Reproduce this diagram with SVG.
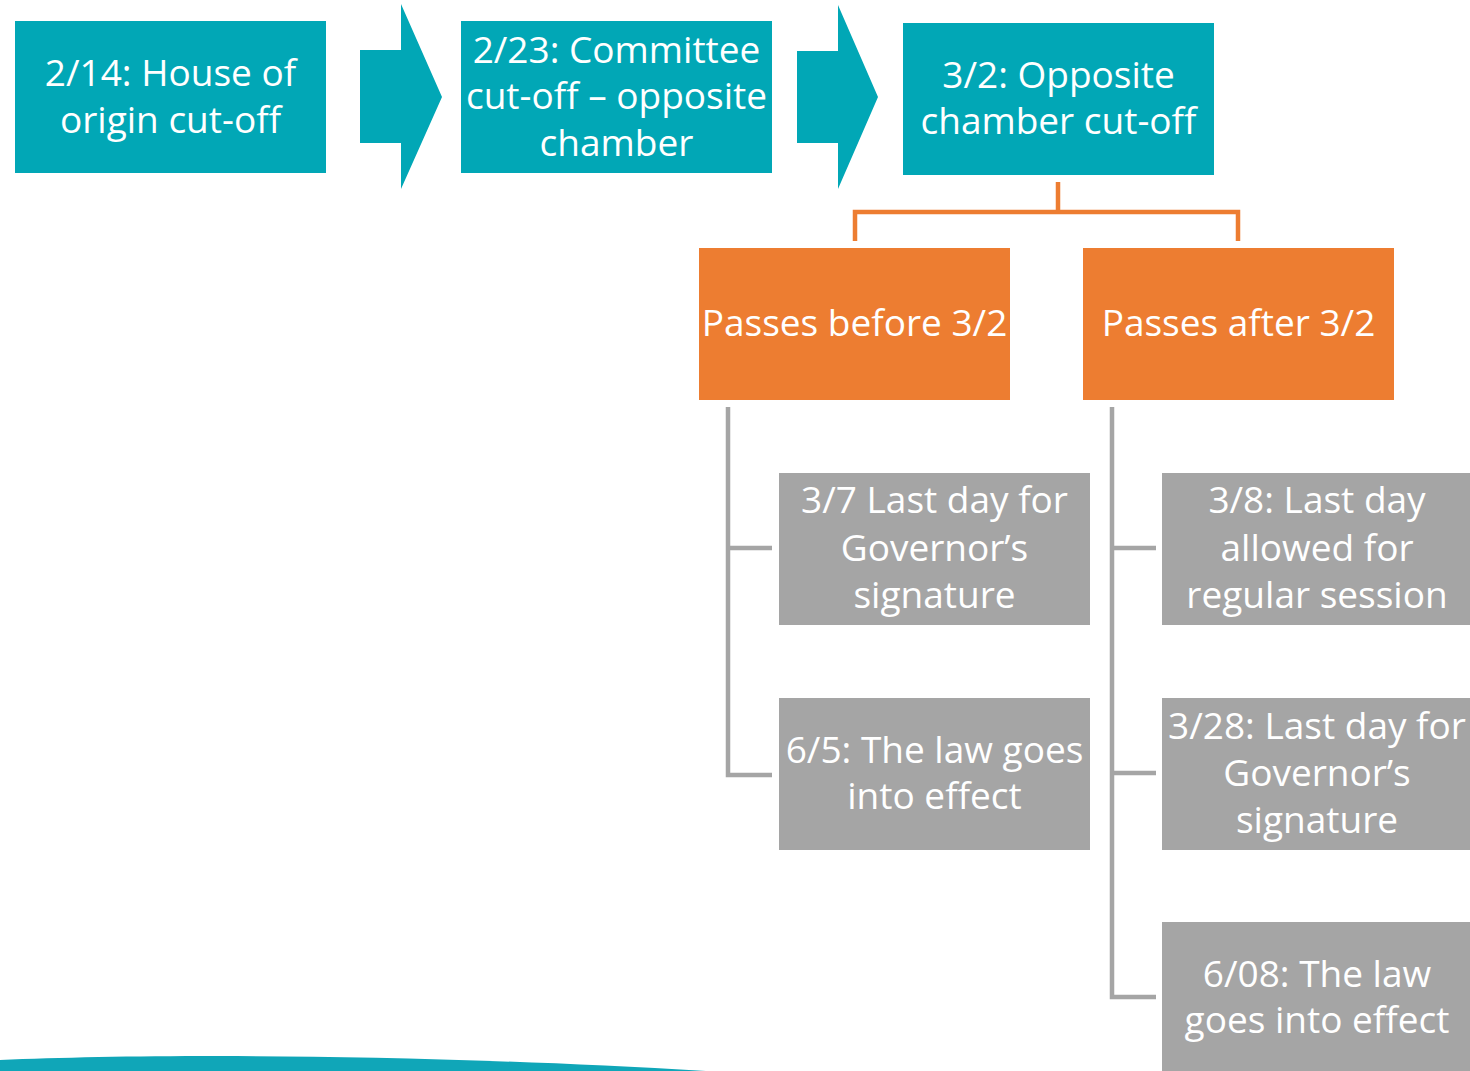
<svg xmlns="http://www.w3.org/2000/svg" width="1470" height="1071" viewBox="0 0 1470 1071">
<style>
.teal{fill:#01A7B6}
.orange{fill:#ED7D31}
.gray{fill:#A5A5A5}
text{font-family:"Open Sans","Liberation Sans",sans-serif;font-size:37px;fill:#ffffff;text-anchor:middle}
.oc{fill:none;stroke:#ED7D31;stroke-width:4.5}
.gc{fill:none;stroke:#A5A5A5;stroke-width:4.5}
</style>
<rect width="1470" height="1071" fill="#ffffff"/>
<path d="M0,1060 C150,1054 400,1053 706,1071 L0,1071 Z" fill="#10A6B8"/>
<g id="arrows">
<polygon class="teal" points="360,50 401,50 401,4 442,97 401,189 401,143 360,143"/>
<polygon class="teal" points="797,51 838,51 838,5 878,97 838,189 838,143 797,143"/>
</g>
<g id="connectors">
<path class="oc" d="M1058,182 V212 M855,241 V212 H1238 V241"/>
<path class="gc" d="M728,407 V775 H772 M728,548 H772"/>
<path class="gc" d="M1112,407 V997 H1156 M1112,548 H1156 M1112,773 H1156"/>
</g>
<g id="n1"><rect class="teal" x="15" y="21" width="311" height="152"/>
<text x="170.5" y="86">2/14: House of</text><text x="170.5" y="133">origin cut-off</text></g>
<g id="n2"><rect class="teal" x="461" y="21" width="311" height="152"/>
<text x="616.5" y="63">2/23: Committee</text><text x="616.5" y="109">cut-off – opposite</text><text x="616.5" y="156">chamber</text></g>
<g id="n3"><rect class="teal" x="903" y="23" width="311" height="152"/>
<text x="1058.5" y="88">3/2: Opposite</text><text x="1058.5" y="134">chamber cut-off</text></g>
<g id="n4"><rect class="orange" x="699" y="248" width="311" height="152"/>
<text x="854.5" y="336">Passes before 3/2</text></g>
<g id="n5"><rect class="orange" x="1083" y="248" width="311" height="152"/>
<text x="1238.5" y="336">Passes after 3/2</text></g>
<g id="n6"><rect class="gray" x="779" y="473" width="311" height="152"/>
<text x="934.5" y="513">3/7 Last day for</text><text x="934.5" y="561">Governor’s</text><text x="934.5" y="608">signature</text></g>
<g id="n7"><rect class="gray" x="779" y="698" width="311" height="152"/>
<text x="934.5" y="763">6/5: The law goes</text><text x="934.5" y="809">into effect</text></g>
<g id="n8"><rect class="gray" x="1162" y="473" width="311" height="152"/>
<text x="1317" y="513">3/8: Last day</text><text x="1317" y="561">allowed for</text><text x="1317" y="608">regular session</text></g>
<g id="n9"><rect class="gray" x="1162" y="698" width="311" height="152"/>
<text x="1317" y="739">3/28: Last day for</text><text x="1317" y="786">Governor’s</text><text x="1317" y="833">signature</text></g>
<g id="n10"><rect class="gray" x="1162" y="922" width="311" height="152"/>
<text x="1317" y="987">6/08: The law</text><text x="1317" y="1033">goes into effect</text></g>
</svg>
